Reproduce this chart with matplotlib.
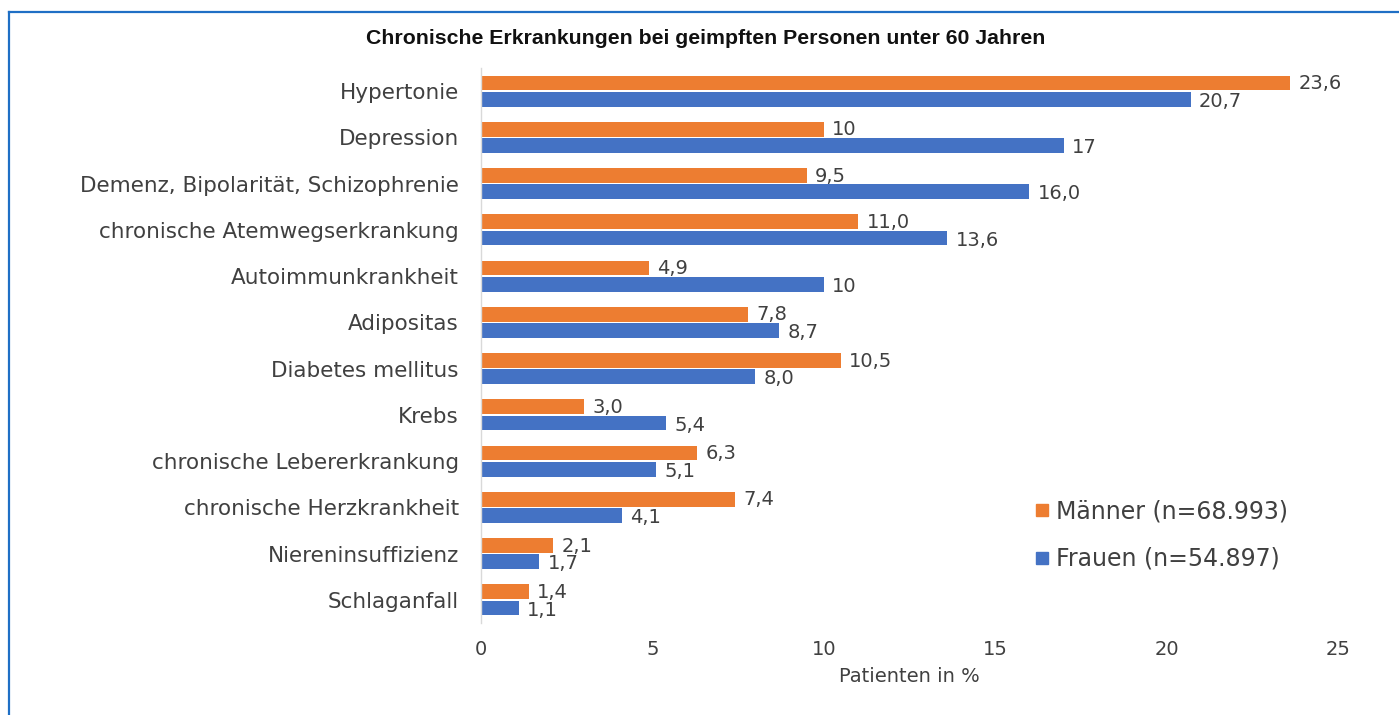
import matplotlib
matplotlib.use("Agg")
import matplotlib.pyplot as plt
from matplotlib.lines import Line2D
import numpy as np

categories = ["Hypertonie", "Depression", "Demenz, Bipolarität, Schizophrenie",
              "chronische Atemwegserkrankung", "Autoimmunkrankheit", "Adipositas",
              "Diabetes mellitus", "Krebs", "chronische Lebererkrankung",
              "chronische Herzkrankheit", "Niereninsuffizienz", "Schlaganfall"]
maenner = [23.6, 10, 9.5, 11.0, 4.9, 7.8, 10.5, 3.0, 6.3, 7.4, 2.1, 1.4]
frauen = [20.7, 17, 16.0, 13.6, 10, 8.7, 8.0, 5.4, 5.1, 4.1, 1.7, 1.1]
maenner_labels = ["23,6", "10", "9,5", "11,0", "4,9", "7,8", "10,5", "3,0", "6,3", "7,4", "2,1", "1,4"]
frauen_labels = ["20,7", "17", "16,0", "13,6", "10", "8,7", "8,0", "5,4", "5,1", "4,1", "1,7", "1,1"]
series_names = ["Männer (n=68.993)", "Frauen (n=54.897)"]
xticks = [0, 5, 10, 15, 20, 25]

ORANGE = "#ED7D31"
BLUE = "#4472C4"
TXT = "#404040"

plt.rcParams['font.family'] = ['DejaVu Sans']

fig = plt.figure(figsize=(13.99, 7.15), dpi=100)
ax = fig.add_axes([481/1399, 1-623/715, (1338-481)/1399, (623-68)/715])

y = np.arange(len(categories))
h = 0.32
off = 0.175
ax.barh(y - off, maenner, height=h, color=ORANGE)
ax.barh(y + off, frauen, height=h, color=BLUE)

for yi, v, lab in zip(y, maenner, maenner_labels):
    ax.annotate(lab, (v, yi - off), xytext=(6, -0.5), textcoords="offset points",
                va="center", ha="left", fontsize=14, color=TXT)
for yi, v, lab in zip(y, frauen, frauen_labels):
    ax.annotate(lab, (v, yi + off), xytext=(6, -1.5), textcoords="offset points",
                va="center", ha="left", fontsize=14, color=TXT)

ax.set_ylim(len(categories) - 0.5, -0.5)
ax.set_xlim(0, 25)
ax.set_yticks(y)
ax.set_yticklabels(categories, fontsize=15.5, color=TXT)
ax.set_xticks(xticks)
ax.set_xticklabels([str(t) for t in xticks], fontsize=14, color=TXT)
ax.tick_params(axis='y', length=0, pad=16)
ax.tick_params(axis='x', length=0, pad=12)
for s in ["top", "right", "bottom"]:
    ax.spines[s].set_visible(False)
ax.spines["left"].set_color("#D9D9D9")
ax.spines["left"].set_linewidth(1)
ax.set_xlabel("Patienten in %", fontsize=14, color=TXT, labelpad=6)

fig.text(706/1399, 1-38/715, "Chronische Erkrankungen bei geimpften Personen unter 60 Jahren",
         ha="center", va="center", fontsize=15.3, fontweight="bold", color="#111111",
         family=['Liberation Sans', 'DejaVu Sans'])

handles = [Line2D([], [], marker="s", linestyle="none", markersize=8, color=ORANGE),
           Line2D([], [], marker="s", linestyle="none", markersize=8, color=BLUE)]
fig.legend(handles, series_names, loc="center left", bbox_to_anchor=(1010/1399, 1-535/715),
           frameon=False, fontsize=17, labelcolor=TXT, handletextpad=0.15, labelspacing=1.0,
           handlelength=0.9)

# blue frame (top and left border)
fig.add_artist(Line2D([9/1399, 9/1399], [0, 1-12/715], transform=fig.transFigure,
                      color="#1F6FC5", linewidth=1.6))
fig.add_artist(Line2D([9/1399, 1], [1-12/715, 1-12/715], transform=fig.transFigure,
                      color="#1F6FC5", linewidth=1.6))

fig.savefig("out.png", dpi=100, facecolor="white")
